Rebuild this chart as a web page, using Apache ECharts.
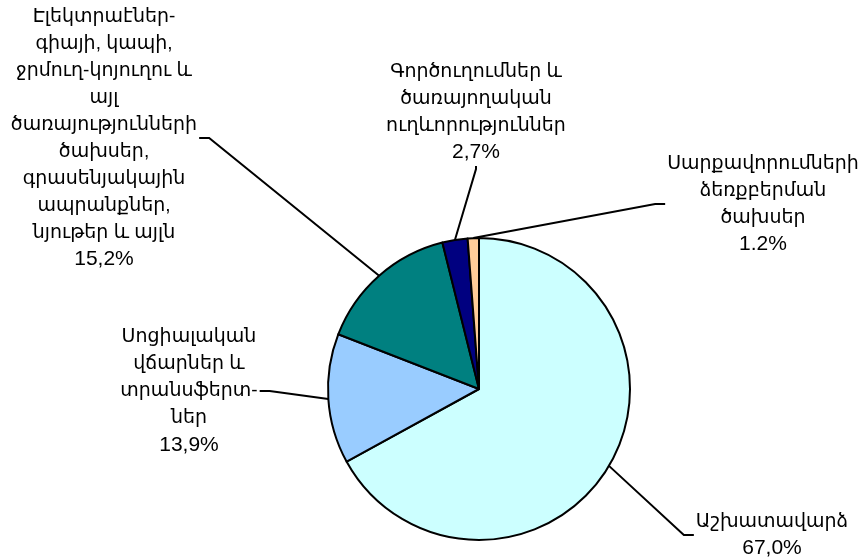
<!DOCTYPE html>
<html>
<head>
<meta charset="utf-8">
<script src="https://cdn.jsdelivr.net/npm/echarts@6/dist/echarts.min.js"></script>
<style>
html,body{margin:0;padding:0;background:#fff;}
#c{width:860px;height:560px;}
</style>
</head>
<body>
<div id="c"></div>
<script>
// ---- data ----
var categories = [
  "Աշխատավարձ",
  "Սոցիալական\nվճարներ և\nտրանսֆերտ-\nներ",
  "Էլեկտրաէներ-\nգիայի, կապի,\nջրմուղ-կոյուղու և\nայլ\nծառայությունների\nծախսեր,\nգրասենյակային\nապրանքներ,\nնյութեր և այլն",
  "Գործուղումներ և\nծառայողական\nուղևորություններ",
  "Սարքավորումների\nձեռքբերման\nծախսեր"
];
var values = [67.0, 13.9, 15.2, 2.7, 1.2];
var percentLabels = ["67,0%", "13,9%", "15,2%", "2,7%", "1.2%"];

// ---- styles / layout ----
var colors = ["#CCFFFF", "#99CCFF", "#008080", "#000080", "#FFCC99"];
// label block centers and the side where the leader line attaches
var labelPos = [
  {x: 772, y: 535, side: "left"},
  {x: 189, y: 391, side: "right"},
  {x: 104, y: 138, side: "right"},
  {x: 476, y: 112, side: "bottom"},
  {x: 763, y: 204, side: "left"}
];
var len2 = 10;

var chart = echarts.init(document.getElementById('c'), null, {renderer: 'canvas'});

var seriesData = categories.map(function (c, i) {
  return {name: c, value: values[i], itemStyle: {color: colors[i]}};
});

var fontFam = 'Liberation Sans, Arial, Noto Sans, DejaVu Sans, sans-serif';

chart.setOption({
  animation: false,
  backgroundColor: '#ffffff',
  series: [{
    type: 'pie',
    center: [479, 389],
    radius: 151,
    startAngle: 90,
    clockwise: true,
    avoidLabelOverlap: false,
    data: seriesData,
    itemStyle: {borderColor: '#000', borderWidth: 2},
    emphasis: {disabled: true},
    label: {
      show: true,
      position: 'outside',
      color: '#000',
      fontSize: 19,
      lineHeight: 27,
      fontFamily: fontFam,
      align: 'center',
      formatter: function (p) { return p.name + '\n{pct|' + percentLabels[p.dataIndex] + '}'; },
      rich: {
        pct: {fontSize: 21, lineHeight: 27, color: '#000', fontFamily: fontFam}
      }
    },
    labelLine: {show: true, length: 20, length2: len2, lineStyle: {color: '#000', width: 2}},
    labelLayout: function (p) {
      var pos = labelPos[p.dataIndex];
      var r = p.labelRect;
      var end, mid;
      if (pos.side === 'left') {
        end = [pos.x - r.width / 2 - 2, pos.y];
        mid = [end[0] - len2, end[1]];
      } else if (pos.side === 'right') {
        end = [pos.x + r.width / 2 + 2, pos.y];
        mid = [end[0] + len2, end[1]];
      } else {
        end = [pos.x, pos.y + r.height / 2];
        mid = [end[0], end[1] + 3];
      }
      var res = {x: pos.x, y: pos.y, align: 'center', verticalAlign: 'middle'};
      if (p.labelLinePoints && p.labelLinePoints[0]) {
        res.labelLinePoints = [p.labelLinePoints[0], mid, end];
      }
      return res;
    }
  }]
});
</script>
</body>
</html>
